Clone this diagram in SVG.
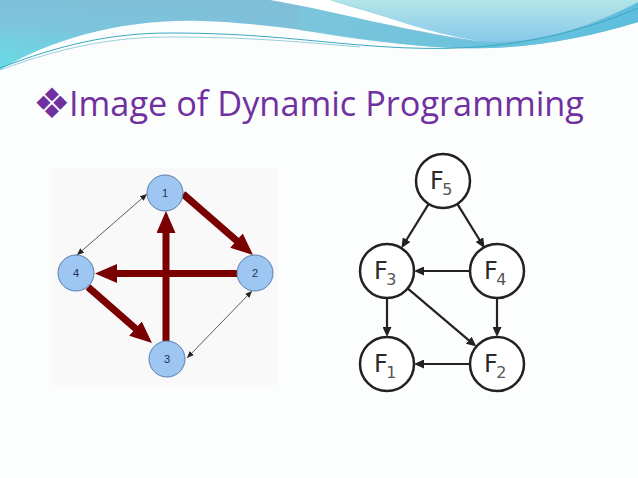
<svg xmlns="http://www.w3.org/2000/svg" width="638" height="478" viewBox="0 0 638 478">
<style>
.title{font-family:"Open Sans","Liberation Sans",sans-serif;font-size:34px;fill:#7030a0}
.bullet{font-family:"DejaVu Sans",sans-serif;font-size:42px;fill:#7030a0}
.bnode{fill:#9ec6f2;stroke:#5b7eaa;stroke-width:1}
.blabel{font-family:"Liberation Sans",Arial,sans-serif;font-size:11px;fill:#24324d;text-anchor:middle}
.red{stroke:#7a0000;stroke-width:7;fill:none}
.thin{stroke:#333;stroke-width:0.8;fill:none}
.fnode{fill:#fff;stroke:#222;stroke-width:2.5}
.flabel{font-family:"DejaVu Sans",sans-serif;font-size:24px;fill:#2a2a2a}
.fsub{font-size:16px;fill:#555}
.blk{stroke:#222;stroke-width:2.2;fill:none}
</style>
<defs>
<linearGradient id="gBlue" x1="0" y1="1" x2="0.6" y2="0">
<stop offset="0" stop-color="#66dde8"/>
<stop offset="0.5" stop-color="#7cc4dc"/>
<stop offset="1" stop-color="#82bcd6"/>
</linearGradient>
<linearGradient id="gLens" x1="0" y1="0" x2="0" y2="1">
<stop offset="0" stop-color="#b2e5e8"/>
<stop offset="1" stop-color="#88c9ea"/>
</linearGradient>
<linearGradient id="gBand" x1="0" y1="0" x2="1" y2="0">
<stop offset="0" stop-color="#7cc6dc"/>
<stop offset="1" stop-color="#58bede"/>
</linearGradient>
<marker id="redHead" markerUnits="userSpaceOnUse" markerWidth="22" markerHeight="19" refX="1" refY="9.5" orient="auto">
<path d="M0,0 L22,9.5 L0,19 Z" fill="#7a0000"/>
</marker>
<marker id="thinHead" markerUnits="userSpaceOnUse" markerWidth="7" markerHeight="6" refX="7" refY="3" orient="auto-start-reverse">
<path d="M0,0 L7,3 L0,6 Z" fill="#222"/>
</marker>
<marker id="blkHead" markerUnits="userSpaceOnUse" markerWidth="10" markerHeight="9" refX="1" refY="4.5" orient="auto">
<path d="M0,0 L10,4.5 L0,9 Z" fill="#222"/>
</marker>
</defs>
<rect width="638" height="478" fill="#fcfdfd"/>
<g id="header">
<path d="M0,0 H638 V22 C580,40 520,50 460,48 C380,46 300,24 200,21 C120,19 50,40 0,70 Z" fill="url(#gBlue)"/>
<path d="M300,0 C360,18 420,36 478,42 C540,46 600,24 638,2 V22 C580,40 520,50 460,48 C400,46 350,38 300,30 Z" fill="url(#gBand)" opacity="0.9"/>
<path d="M270,0 C330,10 400,30 478,41 C420,26 360,10 330,0 Z" fill="#ffffff"/>
<path d="M330,0 C380,14 430,34 478,41 C540,46 600,22 638,2 V0 Z" fill="url(#gLens)"/>
<path d="M0,68 C60,45 110,33 170,33 C250,33 300,40 360,45 C420,50 470,50 520,42 C570,34 610,20 638,8" fill="none" stroke="#3aa9bf" stroke-width="1"/>
<path d="M0,70 C60,48 110,37 170,37 C250,37 300,42 360,47" fill="none" stroke="#7fc3d3" stroke-width="0.8"/>
</g>
<g id="title">
<text class="bullet" x="33" y="118">❖</text>
<text class="title" x="69" y="116" textLength="515" lengthAdjust="spacingAndGlyphs">Image of Dynamic Programming</text>
</g>
<rect x="52" y="168" width="226" height="217" fill="#f9f9f9"/>
<g id="connectors-left">
<line class="red" x1="183" y1="194" x2="237.2" y2="241.2" marker-end="url(#redHead)"/>
<line class="red" x1="237" y1="273.5" x2="116" y2="273.5" marker-end="url(#redHead)"/>
<line class="red" x1="166" y1="341" x2="166" y2="232" marker-end="url(#redHead)"/>
<line class="red" x1="88" y1="287" x2="136.2" y2="329.2" marker-end="url(#redHead)"/>
<line class="thin" x1="147" y1="194" x2="77" y2="255" marker-start="url(#thinHead)" marker-end="url(#thinHead)"/>
<line class="thin" x1="252" y1="291" x2="187" y2="358" marker-start="url(#thinHead)" marker-end="url(#thinHead)"/>
</g>
<g id="node1"><circle class="bnode" cx="165" cy="193" r="18"/><text class="blabel" x="165" y="197">1</text></g>
<g id="node2"><circle class="bnode" cx="255" cy="273" r="18"/><text class="blabel" x="255" y="277">2</text></g>
<g id="node3"><circle class="bnode" cx="167" cy="359" r="18"/><text class="blabel" x="167" y="363">3</text></g>
<g id="node4"><circle class="bnode" cx="76" cy="273" r="18"/><text class="blabel" x="76" y="277">4</text></g>
<g id="connectors-right">
<line class="blk" x1="428.7" y1="203.9" x2="406.1" y2="240.5" marker-end="url(#blkHead)"/>
<line class="blk" x1="457.3" y1="203.9" x2="479.9" y2="240.5" marker-end="url(#blkHead)"/>
<line class="blk" x1="470" y1="271" x2="423" y2="271" marker-end="url(#blkHead)"/>
<line class="blk" x1="387" y1="298" x2="387" y2="328" marker-end="url(#blkHead)"/>
<line class="blk" x1="497" y1="298" x2="497" y2="328" marker-end="url(#blkHead)"/>
<line class="blk" x1="407.6" y1="288.4" x2="469.5" y2="340.8" marker-end="url(#blkHead)"/>
<line class="blk" x1="470" y1="364" x2="423" y2="364" marker-end="url(#blkHead)"/>
</g>
<g id="F5"><circle class="fnode" cx="443" cy="181" r="27"/><text class="flabel" x="430" y="189">F<tspan class="fsub" dx="-1.5" dy="6">5</tspan></text></g>
<g id="F3"><circle class="fnode" cx="387" cy="271" r="27"/><text class="flabel" x="374" y="279">F<tspan class="fsub" dx="-1.5" dy="6">3</tspan></text></g>
<g id="F4"><circle class="fnode" cx="497" cy="271" r="27"/><text class="flabel" x="484" y="279">F<tspan class="fsub" dx="-1.5" dy="6">4</tspan></text></g>
<g id="F1"><circle class="fnode" cx="387" cy="364" r="27"/><text class="flabel" x="374" y="372">F<tspan class="fsub" dx="-1.5" dy="6">1</tspan></text></g>
<g id="F2"><circle class="fnode" cx="497" cy="364" r="27"/><text class="flabel" x="484" y="372">F<tspan class="fsub" dx="-1.5" dy="6">2</tspan></text></g>
</svg>
